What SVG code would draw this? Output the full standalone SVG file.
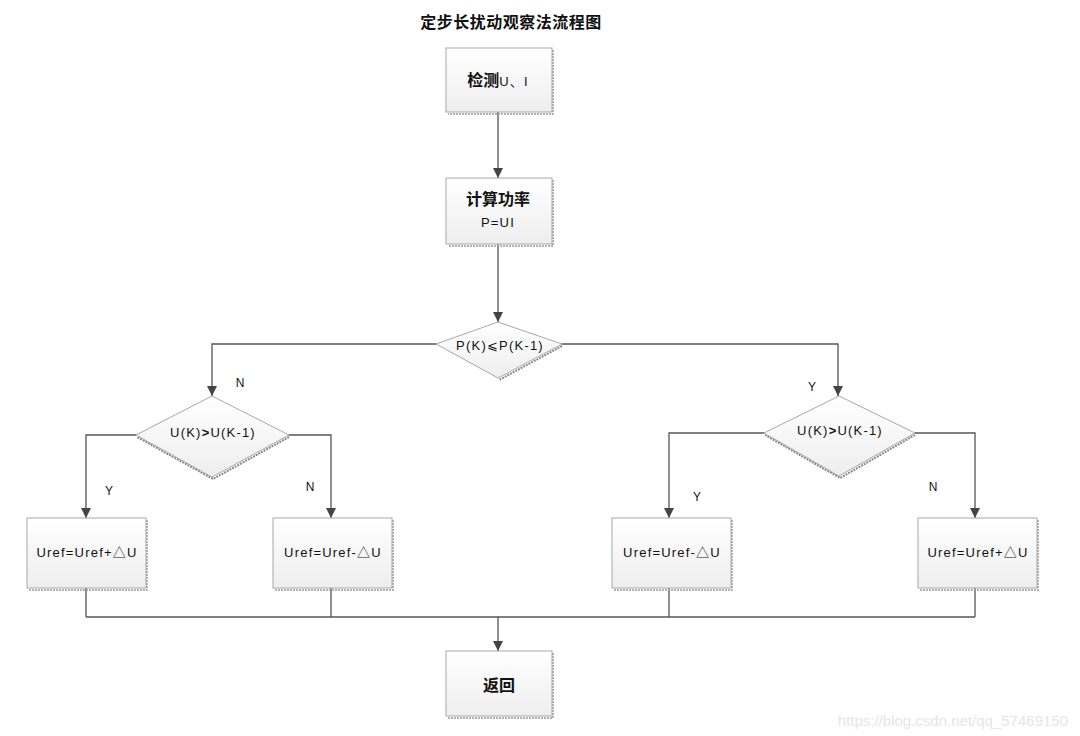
<svg xmlns="http://www.w3.org/2000/svg" width="1080" height="736" viewBox="0 0 1080 736">
<defs>
<linearGradient id="g" x1="0" y1="0" x2="0" y2="1">
<stop offset="0" stop-color="#ffffff"/>
<stop offset="1" stop-color="#eeeeee"/>
</linearGradient>
<marker id="a" viewBox="0 0 10 10" refX="10" refY="5" markerWidth="10" markerHeight="10" markerUnits="userSpaceOnUse" orient="auto">
<path d="M0,0 L10,5 L0,10 Z" fill="#444"/>
</marker>
<style>
.box{fill:url(#g);stroke:#a8a8a8;stroke-width:1}
.sh{fill:none;stroke:#999;stroke-width:1.5;stroke-dasharray:2 1}
.dia{fill:url(#g);stroke:#a8a8a8;stroke-width:1}
.dsh{fill:none;stroke:#888;stroke-width:2;stroke-dasharray:2 1}
.ln{fill:none;stroke:#555;stroke-width:1.3}
.t{font-family:"Liberation Sans","Noto Sans CJK SC",sans-serif;fill:#111;text-anchor:middle}
.cn{font-size:16px;font-weight:bold}
.en{font-size:13px;letter-spacing:1.2px}
.lb{font-family:"Liberation Sans",sans-serif;font-size:12px;fill:#111;text-anchor:middle}
</style>
</defs>
<rect width="1080" height="736" fill="#ffffff"/>
<text class="t" x="511" y="28" style="font-size:16px;font-weight:bold;letter-spacing:0.5px">定步长扰动观察法流程图</text>

<g id="connectors">
<path class="ln" d="M498,112 V178" marker-end="url(#a)"/>
<path class="ln" d="M498,244 V322" marker-end="url(#a)"/>
<path class="ln" d="M436,344 H212 V396" marker-end="url(#a)"/>
<path class="ln" d="M562,344 H838 V396" marker-end="url(#a)"/>
<path class="ln" d="M136,435 H86 V518" marker-end="url(#a)"/>
<path class="ln" d="M289,435 H331 V518" marker-end="url(#a)"/>
<path class="ln" d="M764,433 H669 V518" marker-end="url(#a)"/>
<path class="ln" d="M915,433 H975 V518" marker-end="url(#a)"/>
<path class="ln" d="M86,588 V617 M331,588 V617 M669,588 V617 M975,588 V617 M86,617 H975"/>
<path class="ln" d="M498,617 V651" marker-end="url(#a)"/>
<text class="lb" x="240" y="387">N</text>
<text class="lb" x="812" y="391">Y</text>
<text class="lb" x="109" y="495">Y</text>
<text class="lb" x="310" y="491">N</text>
<text class="lb" x="697" y="501">Y</text>
<text class="lb" x="933" y="491">N</text>
</g>

<g id="n1">
<path class="sh" d="M553,50 V114 H448"/>
<rect class="box" x="446" y="48" width="106" height="64"/>
<text class="t" x="498" y="86"><tspan class="cn">检测</tspan><tspan class="en">U、I</tspan></text>
</g>

<g id="n2">
<path class="sh" d="M553,180 V246 H448"/>
<rect class="box" x="446" y="178" width="106" height="66"/>
<text class="t cn" x="498" y="205">计算功率</text>
<text class="t en" x="498" y="227">P=UI</text>
</g>

<g id="d1">
<path class="dsh" d="M562,346 L499,380"/>
<path class="dia" d="M498,322 L562,344 L498,378 L436,344 Z"/>
<text class="t en" x="500" y="350">P(K)⩽P(K-1)</text>
</g>

<g id="d2">
<path class="dsh" d="M289,437 L213,479 L137,437"/>
<path class="dia" d="M212,396 L289,435 L212,477 L136,435 Z"/>
<text class="t en" x="213" y="437">U(K)<tspan font-weight="bold">&gt;</tspan>U(K-1)</text>
</g>

<g id="d3">
<path class="dsh" d="M915,435 L840,478 L765,435"/>
<path class="dia" d="M839,396 L915,433 L839,476 L764,433 Z"/>
<text class="t en" x="840" y="435">U(K)<tspan font-weight="bold">&gt;</tspan>U(K-1)</text>
</g>

<g id="b1">
<path class="sh" d="M147,520 V590 H29"/>
<rect class="box" x="27" y="518" width="119" height="70"/>
<text class="t en" x="87" y="557">Uref=Uref+△U</text>
</g>

<g id="b2">
<path class="sh" d="M393,520 V590 H275"/>
<rect class="box" x="273" y="518" width="119" height="70"/>
<text class="t en" x="333" y="557">Uref=Uref-△U</text>
</g>

<g id="b3">
<path class="sh" d="M732,520 V590 H614"/>
<rect class="box" x="612" y="518" width="119" height="70"/>
<text class="t en" x="672" y="557">Uref=Uref-△U</text>
</g>

<g id="b4">
<path class="sh" d="M1038,520 V590 H920"/>
<rect class="box" x="918" y="518" width="119" height="70"/>
<text class="t en" x="978" y="557">Uref=Uref+△U</text>
</g>

<g id="n3">
<path class="sh" d="M553,653 V718 H448"/>
<rect class="box" x="446" y="651" width="106" height="65"/>
<text class="t cn" x="499" y="691">返回</text>
</g>

<text x="1068" y="726" style="font-family:'Liberation Sans',sans-serif;font-size:15px;fill:#e6e6e6;text-anchor:end">https://blog.csdn.net/qq_57469150</text>
</svg>
